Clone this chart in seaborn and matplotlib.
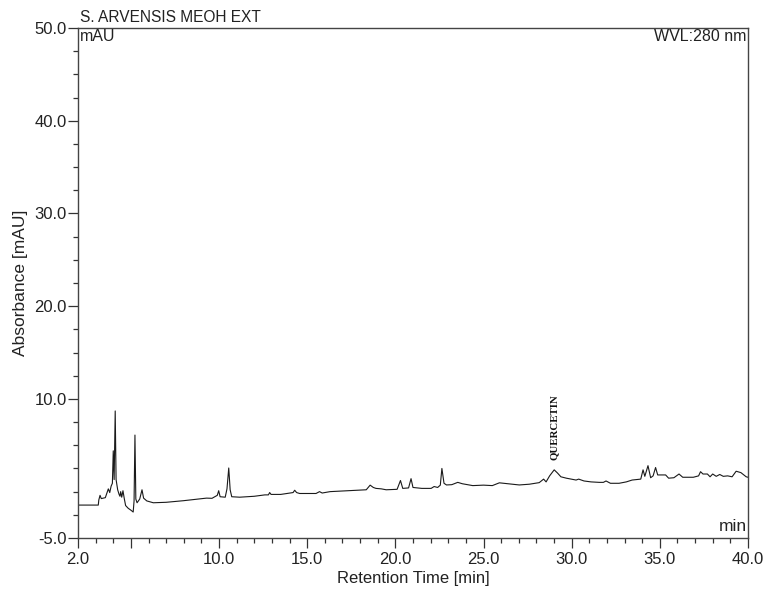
import numpy as np
import pandas as pd
import matplotlib
matplotlib.use('Agg')
import matplotlib.pyplot as plt
import seaborn as sns

# chromatogram trace (min, mAU)
rt = [2.0, 3.15, 3.18, 3.25, 3.32, 3.55, 3.65, 3.72, 3.8, 3.88, 3.95, 4.0, 4.05,
      4.11, 4.16, 4.25, 4.33, 4.38, 4.42, 4.48, 4.55, 4.62, 4.7, 4.85, 5.0, 5.13,
      5.18, 5.23, 5.28, 5.35, 5.5, 5.63, 5.72, 5.9, 6.27, 7.0, 7.97, 8.6, 9.29,
      9.6, 9.9, 9.98, 10.06, 10.35, 10.45, 10.55, 10.63, 10.72, 11.17, 12.0, 12.6,
      12.8, 12.87, 12.95, 13.5, 14.2, 14.29, 14.4, 14.57, 15.5, 15.7, 15.85, 16.3,
      16.84, 17.5, 18.35, 18.57, 18.75, 18.9, 19.2, 19.48, 20.1, 20.29, 20.42,
      20.75, 20.89, 21.0, 21.5, 22.03, 22.2, 22.4, 22.55, 22.64, 22.76, 22.9,
      23.2, 23.54, 23.8, 24.39, 25.0, 25.5, 25.9, 26.4, 27.03, 27.6, 28.16, 28.41,
      28.55, 28.75, 29.01, 29.2, 29.39, 29.7, 30.05, 30.25, 30.4, 30.7, 31.1,
      31.56, 31.8, 31.95, 32.2, 32.69, 33.1, 33.43, 33.92, 34.05, 34.15, 34.33,
      34.48, 34.62, 34.76, 34.88, 35.33, 35.5, 35.8, 36.09, 36.3, 36.9, 37.2,
      37.31, 37.45, 37.7, 37.85, 38.0, 38.2, 38.4, 38.6, 38.85, 39.1, 39.33,
      39.6, 39.9, 40.0]
mau = [-1.45, -1.45, -0.9, -0.4, -0.75, -0.65, -0.1, 0.3, -0.1, 0.6, 0.9, 4.4, 1.3,
       8.7, 1.3, 0.2, -0.3, -0.5, 0.0, -0.6, 0.1, -0.7, -1.5, -1.8, -2.0, -2.2,
       -1.0, 6.1, -0.8, -1.2, -0.8, 0.2, -0.7, -1.0, -1.2, -1.15, -0.98, -0.85, -0.7,
       -0.72, -0.4, 0.1, -0.55, -0.6, 0.3, 2.55, 0.2, -0.55, -0.6, -0.5, -0.35,
       -0.35, -0.1, -0.3, -0.3, -0.1, 0.15, -0.1, -0.2, -0.2, 0.0, -0.15, 0.0,
       0.05, 0.1, 0.2, 0.7, 0.45, 0.35, 0.3, 0.2, 0.25, 1.2, 0.35,
       0.4, 1.4, 0.45, 0.35, 0.35, 0.55, 0.45, 0.7, 2.5, 0.9, 0.72,
       0.75, 1.0, 0.85, 0.65, 0.7, 0.65, 0.95, 0.85, 0.72, 0.8, 0.97, 1.35,
       1.05, 1.7, 2.35, 2.0, 1.6, 1.45, 1.33, 1.25, 1.35, 1.15, 1.05,
       1.0, 1.0, 1.15, 0.9, 0.9, 1.05, 1.25, 1.35, 2.35, 1.65, 2.8,
       1.5, 1.7, 2.6, 1.8, 1.8, 1.45, 1.5, 1.9, 1.55, 1.55, 1.7,
       2.15, 1.9, 1.9, 1.6, 1.9, 1.65, 1.85, 1.65, 1.7, 1.6, 2.2,
       2.05, 1.6, 1.55]

xticks = [2, 5, 10, 15, 20, 25, 30, 35, 40]
xticklabels = ['2.0', '', '10.0', '15.0', '20.0', '25.0', '30.0', '35.0', '40.0']
yticks = [-5, 10, 20, 30, 40, 50]
yticklabels = ['-5.0', '10.0', '20.0', '30.0', '40.0', '50.0']

peak_name = 'QUERCETIN'
peak_rt = 29.0

df = pd.DataFrame({'rt': rt, 'mau': mau})

sns.set_style('ticks')
plt.rcParams['font.family'] = ['Liberation Sans', 'DejaVu Sans']

fig = plt.figure(figsize=(7.64, 5.95), dpi=100)
ax = fig.add_axes([0.1021, 0.0958, 0.8769, 0.8572])

sns.lineplot(data=df, x='rt', y='mau', sort=False, estimator=None,
             color='#1a1a1a', linewidth=0.8, ax=ax)

ax.set_xlim(2, 40)
ax.set_ylim(-5, 50)
ax.set_xticks(xticks)
ax.set_xticklabels(xticklabels)
ax.set_xticks(np.arange(2, 41, 1), minor=True)
ax.set_yticks(yticks)
ax.set_yticklabels(yticklabels)
ax.set_yticks(np.arange(-5, 50.1, 2.5), minor=True)

ax.tick_params(axis='both', which='major', length=7.5, width=0.9, color='#333333',
               labelsize=12, labelcolor='#222222')
ax.tick_params(axis='x', which='major', pad=2.5)
ax.tick_params(axis='y', which='major', pad=0.5)
ax.tick_params(axis='both', which='minor', length=3.5, width=0.9, color='#333333')
for s in ax.spines.values():
    s.set_linewidth(1.0)
    s.set_color('#444444')
    s.set_visible(True)

ax.set_xlabel('Retention Time [min]', fontsize=12, color='#222222', labelpad=3)
ax.set_ylabel('Absorbance [mAU]', fontsize=12.5, color='#222222', labelpad=5)

ax.text(0.003, 1.005, 'S. ARVENSIS MEOH EXT', transform=ax.transAxes,
        fontsize=11.2, color='#222222', ha='left', va='bottom')
ax.text(0.003, 0.997, 'mAU', transform=ax.transAxes,
        fontsize=11.5, color='#222222', ha='left', va='top')
ax.text(0.998, 0.997, 'WVL:280 nm', transform=ax.transAxes,
        fontsize=11.5, color='#222222', ha='right', va='top')
ax.text(0.998, 0.008, 'min', transform=ax.transAxes,
        fontsize=12.5, color='#222222', ha='right', va='bottom')

ax.text(peak_rt, 3.4, peak_name, rotation=90, ha='center', va='bottom',
        fontsize=7.8, fontweight='bold', family=['Liberation Serif', 'DejaVu Serif'],
        color='#111111')

fig.savefig('out.png', dpi=100)
